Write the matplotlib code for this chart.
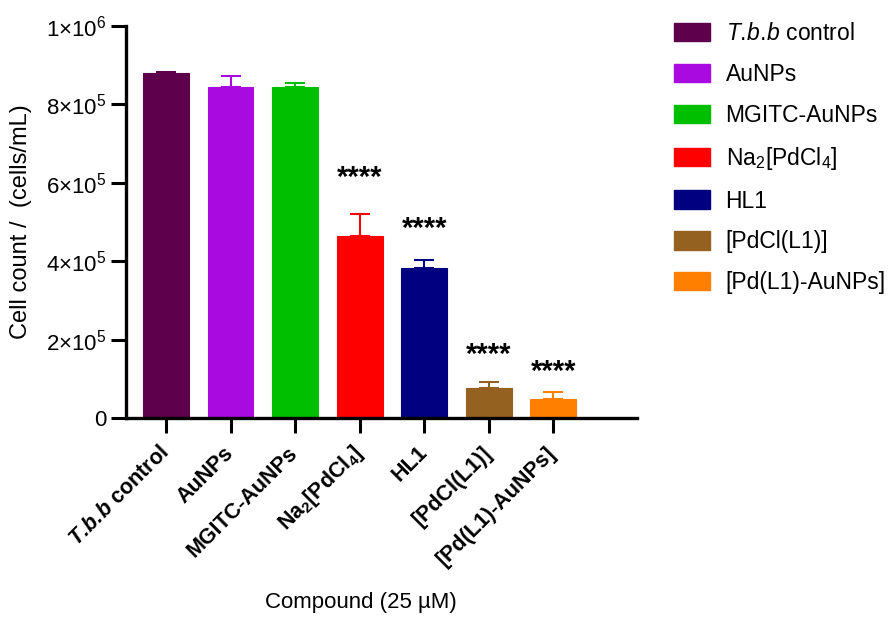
import matplotlib

matplotlib.use("Agg")
import matplotlib.pyplot as plt
from matplotlib.patches import Patch
from matplotlib.ticker import FixedLocator, FixedFormatter

plt.rcParams["font.family"] = ["Liberation Sans", "DejaVu Sans"]
plt.rcParams["mathtext.fontset"] = "custom"
plt.rcParams["mathtext.rm"] = "Liberation Sans"
plt.rcParams["mathtext.it"] = "Liberation Sans:italic"
plt.rcParams["mathtext.bf"] = "Liberation Sans:bold"
plt.rcParams["mathtext.bfit"] = "Liberation Sans:bold:italic"

# ---- data ----
compounds = [
    "T.b.b control",
    "AuNPs",
    "MGITC-AuNPs",
    "Na2[PdCl4]",
    "HL1",
    "[PdCl(L1)]",
    "[Pd(L1)-AuNPs]",
]
# mathtext puts a small space after '.', \! takes it back
tick_labels = [
    r"$\mathbfit{T.\!b.\!b}$ control",
    "AuNPs",
    "MGITC-AuNPs",
    r"$\mathbf{Na_2[PdCl_4]}$",
    "HL1",
    "[PdCl(L1)]",
    "[Pd(L1)-AuNPs]",
]
legend_labels = [
    r"$\mathit{T.\!b.\!b}$ control",
    "AuNPs",
    "MGITC-AuNPs",
    r"Na$_2$[PdCl$_4$]",
    "HL1",
    "[PdCl(L1)]",
    "[Pd(L1)-AuNPs]",
]
mean_counts = [880000, 844000, 844000, 464000, 383000, 76500, 49000]
error_counts = [2000, 28000, 11000, 56000, 20000, 16000, 16000]
significance = ["", "", "", "****", "****", "****", "****"]
star_heights = [0, 0, 0, 612000, 482000, 161000, 117000]
colors = ["#5E004B", "#A90ADF", "#00BF00", "#FF0000", "#000080", "#946121", "#FF8000"]

y_ticks = [0, 200000, 400000, 600000, 800000, 1000000]
y_tick_labels = ["0", r"2$\times$10$^5$", r"4$\times$10$^5$", r"6$\times$10$^5$",
                 r"8$\times$10$^5$", r"1$\times$10$^6$"]

fig = plt.figure(figsize=(8.95, 6.21), dpi=100)
ax = fig.add_axes([0.1408, 0.327, 0.571, 0.631])

x = list(range(len(compounds)))
ax.bar(x, mean_counts, width=0.71, color=colors, edgecolor=colors, linewidth=0.8, zorder=2)
for i in x:
    ax.errorbar(
        i, mean_counts[i], yerr=[[0], [error_counts[i]]],
        color=colors[i], capsize=7, elinewidth=1.5, capthick=1.5, zorder=1,
    )
    if significance[i]:
        ax.text(i, star_heights[i], significance[i], ha="center", va="center",
                fontsize=21, fontweight="bold")

ax.set_xlim(-0.62, 7.30)
ax.set_ylim(0, 1000000)
ax.yaxis.set_major_locator(FixedLocator(y_ticks))
ax.yaxis.set_major_formatter(FixedFormatter(y_tick_labels))
ax.set_xticks(x)
ax.set_xticklabels(tick_labels, rotation=45, ha="right", va="center",
                   rotation_mode="anchor", fontsize=15.5, fontweight="bold")
ax.tick_params(axis="y", labelsize=16, length=11, width=2.2, pad=3)
ax.tick_params(axis="x", length=11, width=2.2, pad=12)

for side in ["top", "right"]:
    ax.spines[side].set_visible(False)
for side in ["left", "bottom"]:
    ax.spines[side].set_linewidth(2.4)

ax.set_ylabel("Cell count /  (cells/mL)", fontsize=17)
ax.yaxis.set_label_coords(-0.184, 0.5)
ax.set_xlabel("Compound (25 µM)", fontsize=16)
ax.xaxis.set_label_coords(0.46, -0.445)

handles = [Patch(facecolor=c, edgecolor=c) for c in colors]
fig.legend(
    handles, legend_labels,
    loc="upper left", bbox_to_anchor=(674 / 895, 1 - 22 / 621),
    frameon=False, fontsize=16.5, labelspacing=0.78, borderpad=0,
    handlelength=1.55, handleheight=0.85, handletextpad=0.7, borderaxespad=0,
)

fig.savefig("out.png", dpi=100)
